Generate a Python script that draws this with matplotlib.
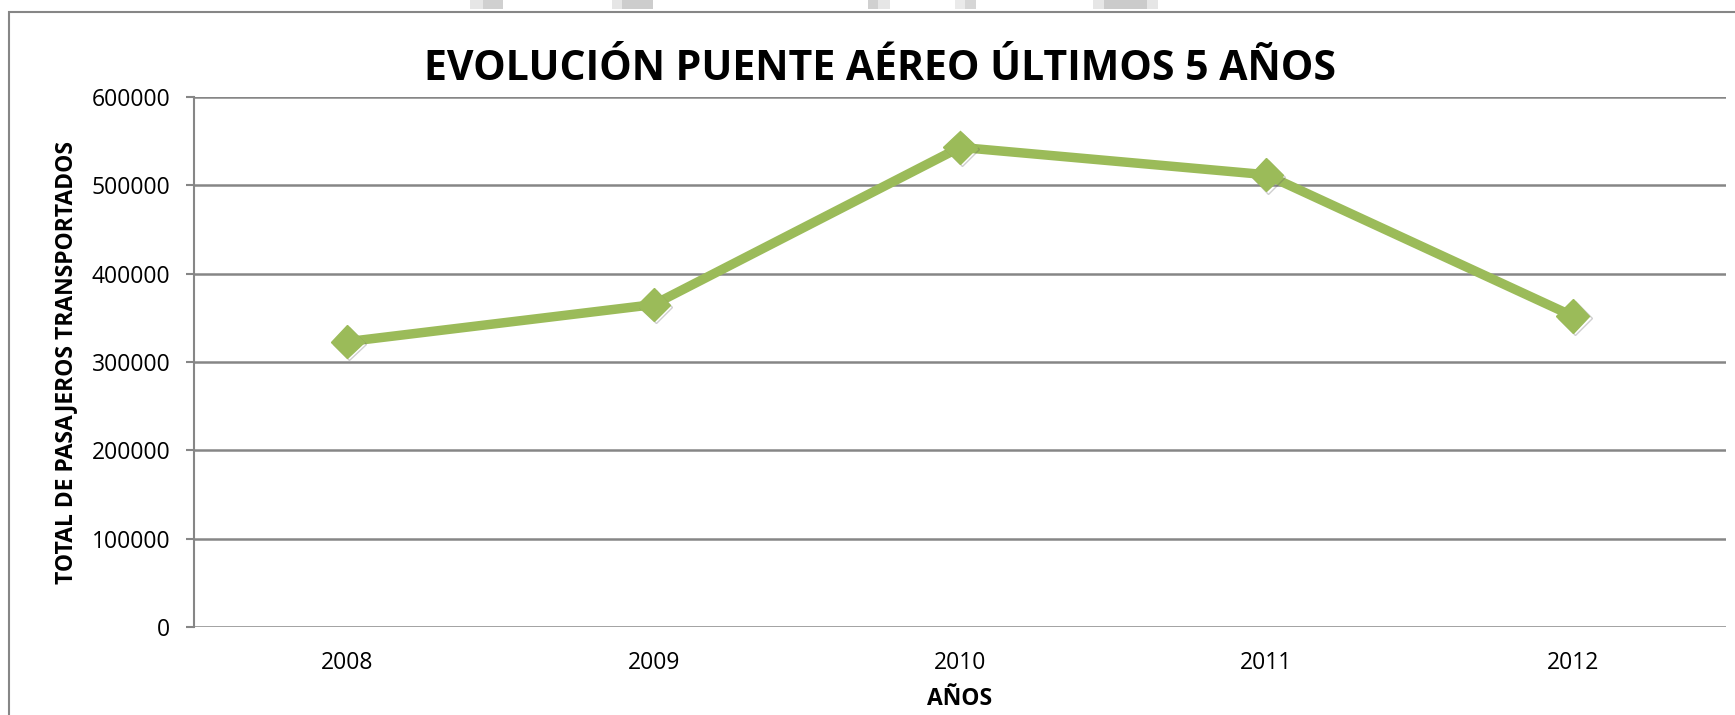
import matplotlib
matplotlib.use("Agg")
import matplotlib.pyplot as plt
from matplotlib.patches import Rectangle
import matplotlib.patheffects as pe

# Datos
YEARS = ["2008", "2009", "2010", "2011", "2012"]
PASSENGERS = [323000, 365000, 543000, 512000, 352000]
Y_TICKS = [0, 100000, 200000, 300000, 400000, 500000, 600000]

TITLE = "EVOLUCIÓN PUENTE AÉREO ÚLTIMOS 5 AÑOS"
Y_LABEL = "TOTAL DE PASAJEROS TRANSPORTADOS"
X_LABEL = "AÑOS"

GREEN = "#9BBB59"
GRID = "#868686"
W, H = 1735, 715

plt.rcParams["font.family"] = ["Open Sans", "DejaVu Sans"]

fig = plt.figure(figsize=(W / 100, H / 100), dpi=100)
fig.patch.set_facecolor("white")

# marco del gráfico y restos grises de la captura
fig.add_artist(Rectangle((9 / W, -0.05), 1.1, 1 - 12 / H + 0.05, transform=fig.transFigure,
                         fill=False, edgecolor=GRID, linewidth=1.5))
blocks = [(470, 483, "#E6E6E6"), (483, 503, "#D0D0D0"),
          (612, 622, "#E6E6E6"), (622, 653, "#CDCDCD"),
          (868, 878, "#D0D0D0"), (878, 890, "#E6E6E6"),
          (955, 965, "#EAEAEA"), (965, 976, "#D6D6D6"),
          (1093, 1104, "#E6E6E6"), (1104, 1147, "#CBCBCB"), (1147, 1158, "#E6E6E6")]
for x0, x1, c in blocks:
    fig.add_artist(Rectangle((x0 / W, 1 - 9 / H), (x1 - x0) / W, 9 / H,
                             transform=fig.transFigure, color=c, linewidth=0))

ax = fig.add_axes([194 / W, 1 - 627 / H, (1726 - 194) / W, (627 - 97) / H])
x = range(len(YEARS))
ax.plot(x, PASSENGERS, color=GREEN, linewidth=6.8, solid_joinstyle="round", zorder=3)
ax.plot(x, PASSENGERS, linestyle="none", marker="D", markersize=17, color=GREEN, zorder=4,
        path_effects=[pe.SimpleLineShadow(offset=(1.5, -1.5), shadow_color="#606060", alpha=0.3),
                      pe.Normal()])

ax.set_xlim(-0.5, len(YEARS) - 0.5)
ax.set_ylim(0, 600000)
ax.set_yticks(Y_TICKS)
ax.set_yticklabels([str(v) for v in Y_TICKS], fontsize=16.5)
ax.set_xticks(list(x))
ax.set_xticklabels(YEARS, fontsize=16.5)
ax.tick_params(axis="x", length=0, pad=17)
ax.tick_params(axis="y", length=6, width=1.5, color=GRID, pad=11)

ax.yaxis.grid(True, color=GRID, linewidth=1.8)
ax.set_axisbelow(True)
for side in ["top", "right", "bottom"]:
    ax.spines[side].set_visible(False)
ax.spines["left"].set_color(GRID)
ax.spines["left"].set_linewidth(1.5)

fig.text(880 / W, 1 - 70 / H, TITLE, ha="center", va="center", fontsize=29.5, fontweight="bold")
fig.text(66 / W, 1 - 362 / H, Y_LABEL, ha="center", va="center", rotation=90,
         fontsize=16.5, fontweight="bold")
fig.text(960 / W, 1 - 699 / H, X_LABEL, ha="center", va="center", fontsize=16.5, fontweight="bold")

fig.savefig("out.png", dpi=100)
